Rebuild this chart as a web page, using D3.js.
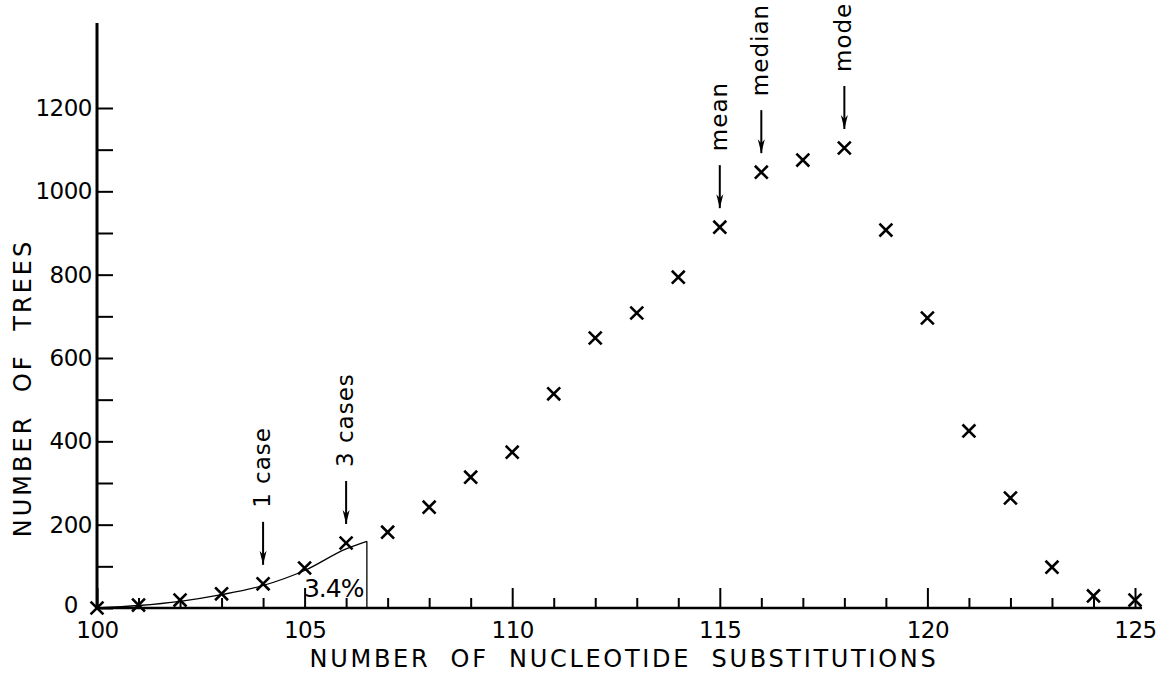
<!DOCTYPE html>
<html>
<head>
<meta charset="utf-8">
<script src="https://cdn.jsdelivr.net/npm/d3@7"></script>
<style>
body { margin: 0; background: #fff; }
text { font-family: "DejaVu Sans", sans-serif; fill: #000; }
</style>
</head>
<body>
<script>
// number of nucleotide substitutions and number of trees
const substitutions = [100, 101, 102, 103, 104, 105, 106, 107, 108, 109, 110, 111, 112,
    113, 114, 115, 116, 117, 118, 119, 120, 121, 122, 123, 124, 125];
const treeCounts = [0, 7, 19, 34, 58, 96, 156, 182, 242, 314, 374, 514, 648,
    708, 794, 914, 1046, 1075, 1104, 907, 696, 425, 264, 98, 29, 19];

// fitted tail curve, cut at 106.5 (3.4% area)
const curveX = [100, 101, 102, 103, 104, 105, 106, 106.5];
const curveY = [0, 6, 16, 32, 54, 90, 142, 160];
const tailLabel = "3.4%";
const tailLabelPos = [105.7, 26];

// arrow annotations
const annotLabels = ["1 case", "3 cases", "mean", "median", "mode"];
const annotX = [104, 106, 115, 116, 118];

// ticks
const xMajorTicks = [100, 105, 110, 115, 120, 125];
const xMinorTicks = [101, 102, 103, 104, 106, 107, 108, 109, 111, 112, 113, 114,
    116, 117, 118, 119, 121, 122, 123, 124];
const yMajorTicks = [0, 200, 400, 600, 800, 1000, 1200];
const yMinorTicks = [100, 300, 500, 700, 900, 1100];
const yAxisTop = 1404;

const width = 1173, height = 673;

const svg = d3.select("body")
    .append("svg")
    .attr("width", width)
    .attr("height", height);

const x = d3.scaleLinear().domain([100, 125]).range([97, 1135]);
const y = d3.scaleLinear().domain([0, 1200]).range([608, 108]);

// arrow head marker
svg.append("defs").append("marker")
    .attr("id", "head")
    .attr("viewBox", "-14 -4 16 8")
    .attr("refX", 0).attr("refY", 0)
    .attr("markerWidth", 16).attr("markerHeight", 8)
    .attr("markerUnits", "userSpaceOnUse")
    .attr("orient", "auto")
    .append("path")
    .attr("d", "M0,0L-14,-3.5L-10,0L-14,3.5Z")
    .attr("fill", "#000");

// y axis: ticks point inwards, labels on the left
const yAxis = svg.append("g")
    .attr("transform", "translate(" + x(100) + ",0)")
    .call(d3.axisLeft(y).tickValues(yMajorTicks).tickSize(-16).tickPadding(5).tickFormat(d3.format("d")))
yAxis.select(".domain").remove();
yAxis.selectAll("text")
    .style("font-size", "23px")
    .style("letter-spacing", "-0.5px")
    .attr("dx", d => d === 0 ? -14 : 0)
    .attr("dy", d => d === 0 ? "0.2em" : "0.32em");
yAxis.selectAll("line").attr("stroke-width", 2);

svg.append("g")
    .attr("transform", "translate(" + x(100) + ",0)")
    .call(d3.axisLeft(y).tickValues(yMinorTicks).tickSize(-16).tickFormat(""))
    .call(g => g.select(".domain").remove())
    .selectAll("line").attr("stroke-width", 2);

svg.append("line")
    .attr("x1", x(100)).attr("x2", x(100))
    .attr("y1", y(0)).attr("y2", y(yAxisTop))
    .attr("stroke", "#000").attr("stroke-width", 3);

// x axis: ticks point up, labels below
const xAxis = svg.append("g")
    .attr("transform", "translate(0," + y(0) + ")")
    .call(d3.axisBottom(x).tickValues(xMajorTicks).tickSize(-20).tickPadding(14))
xAxis.select(".domain").remove();
xAxis.selectAll("text").style("font-size", "23px").style("letter-spacing", "-0.5px");
xAxis.selectAll("line").attr("stroke-width", 2);

svg.append("g")
    .attr("transform", "translate(0," + y(0) + ")")
    .call(d3.axisBottom(x).tickValues(xMinorTicks).tickSize(-10).tickFormat(""))
    .call(g => g.select(".domain").remove())
    .selectAll("line").attr("stroke-width", 2);

svg.append("line")
    .attr("x1", x(100)).attr("x2", x(125.17))
    .attr("y1", y(0)).attr("y2", y(0))
    .attr("stroke", "#000").attr("stroke-width", 2.5);

// axis titles
svg.append("text")
    .attr("transform", "translate(31," + 388 + ") rotate(-90)")
    .attr("text-anchor", "middle")
    .style("font-size", "24px")
    .style("letter-spacing", "3px")
    .style("word-spacing", "12px")
    .text("NUMBER OF TREES");

svg.append("text")
    .attr("x", (x(100) + x(125)) / 2 + 8)
    .attr("y", 667)
    .attr("text-anchor", "middle")
    .style("font-size", "24px")
    .style("letter-spacing", "2.7px")
    .style("word-spacing", "10px")
    .text("NUMBER OF NUCLEOTIDE SUBSTITUTIONS");

// tail curve and cut-off line
const curveData = curveX.map((d, i) => [d, curveY[i]]);
svg.append("path")
    .datum(curveData)
    .attr("fill", "none")
    .attr("stroke", "#000")
    .attr("stroke-width", 1.3)
    .attr("d", d3.line().x(d => x(d[0])).y(d => y(d[1])).curve(d3.curveMonotoneX));

const last = curveData[curveData.length - 1];
svg.append("line")
    .attr("x1", x(last[0])).attr("x2", x(last[0]))
    .attr("y1", y(last[1])).attr("y2", y(0))
    .attr("stroke", "#000").attr("stroke-width", 1.3);

svg.append("text")
    .attr("x", x(tailLabelPos[0]))
    .attr("y", y(tailLabelPos[1]))
    .attr("text-anchor", "middle")
    .style("font-size", "25px")
    .style("letter-spacing", "-1px")
    .text(tailLabel);

// data points as x marks
const data = substitutions.map((d, i) => ({ n: d, trees: treeCounts[i] }));
svg.selectAll(".dot")
    .data(data)
    .enter()
    .append("path")
    .attr("class", "dot")
    .attr("transform", d => "translate(" + x(d.n) + "," + y(d.trees) + ")")
    .attr("d", d3.symbol().type(d3.symbolX).size(110))
    .attr("fill", "none")
    .attr("stroke", "#000")
    .attr("stroke-width", 2.6);

// arrows with rotated labels
annotLabels.forEach((label, i) => {
    const n = annotX[i];
    const tipY = y(treeCounts[substitutions.indexOf(n)]) - 19;
    const topY = tipY - 43;
    const cx = x(n);
    svg.append("line")
        .attr("x1", cx).attr("x2", cx)
        .attr("y1", topY).attr("y2", tipY)
        .attr("stroke", "#000").attr("stroke-width", 2)
        .attr("marker-end", "url(#head)");
    svg.append("text")
        .attr("transform", "translate(" + (cx + 7) + "," + (topY - 14) + ") rotate(-90)")
        .attr("text-anchor", "start")
        .style("font-size", "23px")
        .style("letter-spacing", "1px")
        .text(label);
});
</script>
</body>
</html>
